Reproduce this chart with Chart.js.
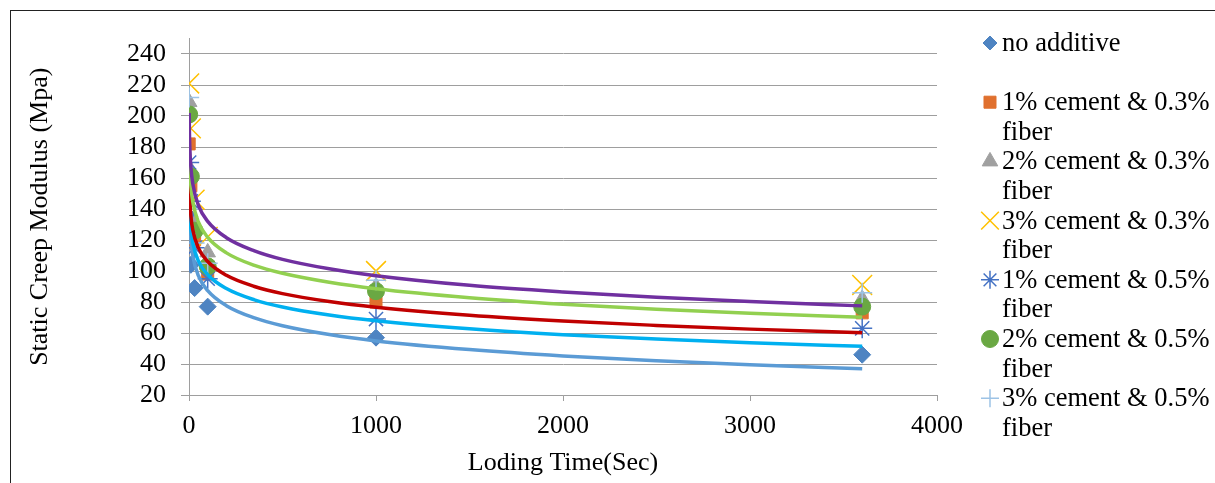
<!DOCTYPE html>
<html lang="en">
<head>
    <meta charset="UTF-8">
    <title>Static Creep Modulus</title>
    <style>
        html, body { margin: 0; padding: 0; background: #fff; }
        #wrap { position: relative; width: 1215px; height: 483px; overflow: hidden; }
        #frame { position: absolute; left: 10px; top: 10px; right: -5px; bottom: -5px; border-left: 1.5px solid #222; border-top: 1.5px solid #222; }
        #chartBox { position: absolute; left: 0; top: 0; width: 1215px; height: 483px; }
    </style>
</head>
<body>
    <div id="wrap">
        <div id="frame"></div>
        <div id="chartBox"><canvas id="creepChart"></canvas></div>
    </div>
    <script src="https://cdn.jsdelivr.net/npm/chart.js"></script>
    <script>
    const times = [1, 10, 30, 100, 1000, 3600];
    const noAdditive = [135, 104, 89, 77, 57, 46];
    const cem1fib03 = [182, 155, 120, 98, 80, 73];
    const cem2fib03 = [209, 165, 130, 112, 90, 82];
    const cem3fib03 = [221, 192, 146, 122, 100, 91];
    const cem1fib05 = [170, 145, 115, 95, 69, 63];
    const cem2fib05 = [201, 161, 126, 103, 87, 77];
    const cem3fib05 = [212, 140, 118, 105, 94, 86];

    // trendlines as they appear in the figure
    const trendTimes = [1, 2, 5, 10, 20, 50, 100, 200, 350, 500, 750, 1000, 1500, 2000, 2500, 3000, 3600];
    const trendPurple = [202, 191.5, 177.5, 167, 156.5, 142.5, 132, 121.5, 113, 107.5, 101.4, 97, 90.8, 86.5, 83.1, 80.3, 77.5];
    const trendGreen = [188, 178, 164.8, 154.8, 144.9, 131.7, 121.7, 111.7, 103.6, 98.5, 92.7, 88.5, 82.7, 78.5, 75.3, 72.7, 70.1];
    const trendRed = [165, 156.1, 144.4, 135.5, 126.6, 114.9, 106.1, 97.2, 90, 85.4, 80.3, 76.6, 71.4, 67.7, 64.9, 62.5, 60.2];
    const trendCyan = [157, 148.1, 136.2, 127.3, 118.3, 106.5, 97.6, 88.7, 81.4, 76.8, 71.6, 67.9, 62.7, 58.9, 56.1, 53.7, 51.4];
    const trendBlue = [152, 142.3, 129.4, 119.6, 109.9, 97, 87.3, 77.6, 69.7, 64.7, 59, 54.9, 49.3, 45.2, 42.1, 39.5, 37];

    const xTicks = [0, 1000, 2000, 3000, 4000];
    const yTicks = [20, 40, 60, 80, 100, 120, 140, 160, 180, 200, 220, 240];

    const FONT = '"Liberation Serif", "Times New Roman", serif';

    function pts(xs, ys) {
        return xs.map((x, i) => ({ x: x, y: ys[i] }));
    }

    // marker series, first one drawn at the bottom like Excel does
    const series = [
        { label: ['no additive', ''], data: noAdditive, style: 'rectRot', color: '#4E84C2', r: 8.5, lr: 7, bw: 1 },
        { label: ['1% cement & 0.3%', 'fiber'], data: cem1fib03, style: 'rect', color: '#E0702E', r: 8.5, lr: 8.5, bw: 1 },
        { label: ['2% cement & 0.3%', 'fiber'], data: cem2fib03, style: 'triangle', color: '#A0A0A0', r: 9, lr: 9, bw: 1 },
        { label: ['3% cement & 0.3%', 'fiber'], data: cem3fib03, style: 'crossRot', color: '#FFC000', r: 14, lr: 12.5, bw: 1.5 },
        { label: ['1% cement & 0.5%', 'fiber'], data: cem1fib05, style: 'star', color: '#4472C4', r: 10, lr: 9, bw: 1.5 },
        { label: ['2% cement & 0.5%', 'fiber'], data: cem2fib05, style: 'circle', color: '#6AA843', r: 8.5, lr: 8.5, bw: 1 },
        { label: ['3% cement & 0.5%', 'fiber'], data: cem3fib05, style: 'cross', color: '#9DC3E6', r: 10, lr: 9, bw: 1.5 }
    ];

    const trends = [
        { data: trendBlue, color: '#5B9BD5' },
        { data: trendCyan, color: '#00B0F0' },
        { data: trendRed, color: '#C00000' },
        { data: trendGreen, color: '#92D050' },
        { data: trendPurple, color: '#7030A0' }
    ];

    const datasets = [];
    series.forEach((s, i) => {
        datasets.push({
            label: s.label[0],
            legendLines: s.label,
            legendRadius: s.lr,
            data: pts(times, s.data),
            showLine: false,
            pointStyle: s.style,
            pointRadius: s.r,
            pointBorderWidth: s.bw,
            backgroundColor: s.color,
            borderColor: s.color,
            order: 20 - i
        });
    });
    trends.forEach((t, i) => {
        datasets.push({
            label: 'trend',
            data: pts(trendTimes, t.data),
            showLine: true,
            pointRadius: 0,
            borderColor: t.color,
            borderWidth: 3.5,
            cubicInterpolationMode: 'monotone',
            order: 10 - i
        });
    });

    // legend on the right with wrapped labels
    const legendTop = 43, legendRow = 29.6, markerX = 990, textX = 1002;
    const sideLegend = {
        id: 'sideLegend',
        afterDraw(chart) {
            const ctx = chart.ctx;
            ctx.save();
            ctx.font = '26.5px ' + FONT;
            ctx.textBaseline = 'middle';
            let row = 0;
            chart.data.datasets.forEach(ds => {
                if (!ds.legendLines) return;
                const y = legendTop + row * legendRow;
                ctx.fillStyle = ds.backgroundColor;
                ctx.strokeStyle = ds.borderColor;
                ctx.lineWidth = ds.pointBorderWidth;
                Chart.helpers.drawPoint(ctx, {
                    pointStyle: ds.pointStyle,
                    radius: ds.legendRadius,
                    rotation: 0,
                    borderWidth: ds.pointBorderWidth
                }, markerX, y);
                ctx.fillStyle = '#000';
                ds.legendLines.forEach((t, k) => ctx.fillText(t, textX, y + k * legendRow + 1));
                row += 2;
            });
            ctx.restore();
        }
    };

    new Chart(document.getElementById('creepChart'), {
        type: 'scatter',
        data: { datasets: datasets },
        options: {
            responsive: true,
            maintainAspectRatio: false,
            animation: false,
            layout: { padding: { left: 21, right: 278, top: 38.5, bottom: 0 } },
            plugins: {
                legend: { display: false },
                tooltip: { enabled: false }
            },
            scales: {
                x: {
                    type: 'linear',
                    min: 0,
                    max: 4000,
                    afterBuildTicks: s => { s.ticks = xTicks.map(v => ({ value: v })); },
                    afterFit: s => { s.height = 88; },
                    grid: { drawOnChartArea: false, drawTicks: true, tickLength: 6, color: '#9e9e9e' },
                    border: { display: true, color: '#9e9e9e', width: 1 },
                    ticks: { color: '#000', font: { family: FONT, size: 26 }, padding: 10, maxRotation: 0, autoSkip: false, callback: v => String(v) },
                    title: { display: true, text: 'Loding Time(Sec)', color: '#000', font: { family: FONT, size: 26 }, padding: { top: 0, bottom: 4 } }
                },
                y: {
                    type: 'linear',
                    min: 20,
                    max: 250,
                    afterBuildTicks: s => { s.ticks = yTicks.map(v => ({ value: v })); },
                    afterFit: s => { s.width = 168; },
                    grid: { color: '#9e9e9e', lineWidth: 1, tickLength: 8 },
                    border: { display: true, color: '#9e9e9e', width: 1 },
                    ticks: { color: '#000', font: { family: FONT, size: 26 }, padding: 15, autoSkip: false, callback: v => String(v) },
                    title: { display: true, text: 'Static Creep Modulus (Mpa)', color: '#000', font: { family: FONT, size: 26 }, padding: { top: 4, bottom: 4 } }
                }
            }
        },
        plugins: [sideLegend]
    });
    </script>
</body>
</html>
